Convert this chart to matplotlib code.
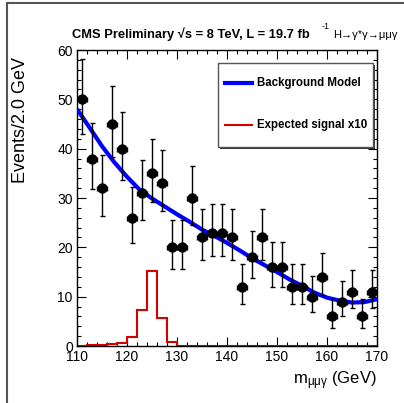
import numpy as np
import matplotlib
matplotlib.use("Agg")
import matplotlib.pyplot as plt
from matplotlib.lines import Line2D
from matplotlib.patches import Rectangle

plt.rcParams["font.family"] = ["Liberation Sans", "DejaVu Sans"]
plt.rcParams["mathtext.fontset"] = "custom"
plt.rcParams["mathtext.rm"] = "Liberation Sans"
plt.rcParams["mathtext.it"] = "Liberation Sans:italic"

# data (2 GeV bins, 110-170)
bin_edges = np.arange(110, 172, 2)
bin_centers = bin_edges[:-1] + 1
counts = [50, 38, 32, 45, 40, 26, 31, 35, 33, 20,
          20, 30, 22, 23, 23, 22, 12, 18, 22, 16,
          16, 12, 12, 10, 14, 6, 9, 11, 6, 11]

signal_x10 = [0.05, 0.15, 0.3, 0.35, 0.7, 1.75, 7.2, 15.3, 5.7, 0.9,
              0, 0, 0, 0, 0, 0, 0, 0, 0, 0,
              0, 0, 0, 0, 0, 0, 0, 0, 0, 0]

bkg_mass = [110, 112.5, 115, 117.5, 120, 122.5, 125, 127.5, 130, 132.5,
            135, 137.5, 140, 142.5, 145, 147.5, 150, 152.5, 155, 157.5,
            160, 162.5, 165, 167.5, 170]
bkg_model = [48.0, 44.3, 40.5, 37.2, 34.3, 31.7, 29.9, 28.3, 26.7, 25.2,
             23.6, 22.3, 20.9, 19.4, 17.8, 16.4, 15.0, 13.5, 12.2, 10.8,
             9.8, 9.2, 8.8, 8.9, 9.5]

# Poisson (Gehrels) asymmetric errors
n = np.array(counts, dtype=float)
err_lo = n - n * (1 - 1 / (9 * n) - 1 / (3 * np.sqrt(n))) ** 3
err_hi = (n + 1) * (1 - 1 / (9 * (n + 1)) + 1 / (3 * np.sqrt(n + 1))) ** 3 - n

W, H = 404, 403
fig = plt.figure(figsize=(W / 100, H / 100), dpi=100)
ax = fig.add_axes([77 / W, (H - 346) / H, 300 / W, 296 / H])

ax.plot(bkg_mass, bkg_model, color="#0000ff", lw=3, zorder=3,
        solid_capstyle="butt")
ax.stairs(signal_x10, bin_edges, color="#d40000", lw=1.5, baseline=0,
          zorder=2, clip_on=False)
ax.errorbar(bin_centers, counts, yerr=[err_lo, err_hi], xerr=1,
            fmt="o", color="black", ms=6.5, elinewidth=1, capsize=1.8,
            capthick=1, zorder=4)

ax.set_xlim(110, 170)
ax.set_ylim(0, 60)
ax.set_xticks(np.arange(110, 171, 10))
ax.set_xticks(np.arange(110, 171, 2), minor=True)
ax.set_yticks(np.arange(0, 61, 10))
ax.set_yticks(np.arange(0, 61, 2), minor=True)
ax.tick_params(which="both", direction="in", top=True, right=True,
               labelsize=10, width=0.8)
ax.tick_params(which="major", length=6.5)
ax.tick_params(which="minor", length=3.2)
ax.tick_params(axis="y", pad=3)
ax.tick_params(axis="x", pad=3)
for s in ax.spines.values():
    s.set_linewidth(1)

fig.text(21 / W, 1 - 57 / H, "Events/2.0 GeV", rotation=90,
         ha="center", va="top", fontsize=13)
fig.text(377 / W, 1 - 384 / H, r"m$_{\mathrm{\mu\mu\gamma}}$ (GeV)",
         ha="right", va="baseline", fontsize=12)

# title
fig.text(72 / W, 1 - 38 / H, "CMS Preliminary √s = 8 TeV, L = 19.7 fb",
         ha="left", va="baseline", fontsize=9.3, fontweight="bold")
fig.text(322 / W, 1 - 29 / H, "-1", ha="left", va="baseline", fontsize=6.5)
fig.text(333 / W, 1 - 38 / H, "H→γ*γ→μμγ", ha="left", va="baseline",
         fontsize=8)

# legend box
x0, x1 = (218 - 77) / 300, (373 - 77) / 300
y0, y1 = (346 - 147) / 296, (346 - 63) / 296
ax.add_patch(Rectangle((x0 + 0.006, y0 - 0.006), x1 - x0, y1 - y0,
                       transform=ax.transAxes, facecolor="#333333",
                       edgecolor="none", zorder=5))
ax.add_patch(Rectangle((x0, y0), x1 - x0, y1 - y0, transform=ax.transAxes,
                       facecolor="white", edgecolor="#555555", lw=1,
                       zorder=6))
hx0, hx1 = (225 - 77) / 300, (252 - 77) / 300
tx = (257 - 77) / 300
for yy, col, lw, lab in [((346 - 83) / 296, "#0000ff", 3, "Background Model"),
                         ((346 - 125) / 296, "#d40000", 1.5,
                          "Expected signal x10")]:
    ax.add_line(Line2D([hx0, hx1], [yy, yy], transform=ax.transAxes,
                       color=col, lw=lw, zorder=7))
    ax.text(tx, yy, lab, transform=ax.transAxes, ha="left", va="center",
            fontsize=8.3, fontweight="bold", zorder=7)

# outer frame of the canvas
fig.add_artist(Line2D([7 / W, 7 / W], [0, 1 - 3 / H], transform=fig.transFigure,
                      color="#555555", lw=1.5))
fig.add_artist(Line2D([7 / W, 1], [1 - 3 / H, 1 - 3 / H],
                      transform=fig.transFigure, color="#555555", lw=1.5))

fig.savefig("out.png", dpi=100)
